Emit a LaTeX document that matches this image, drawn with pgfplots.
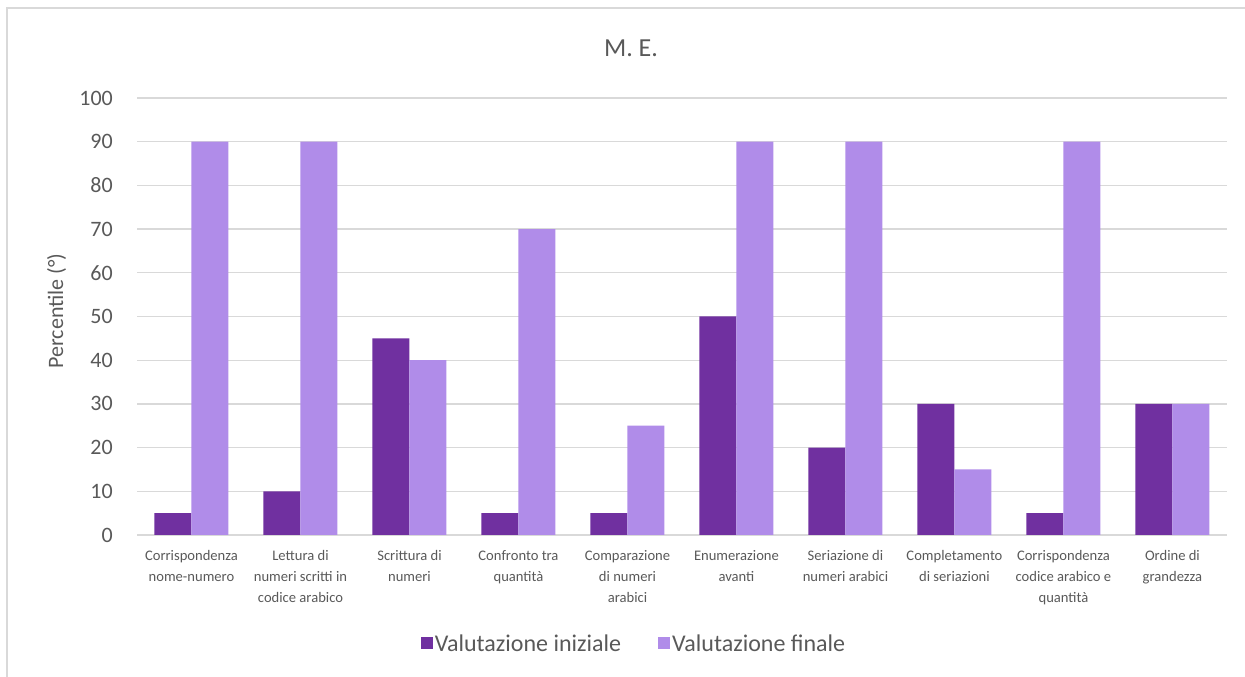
\documentclass[border=0pt]{standalone}
\usepackage{fontspec}
\setmainfont{Carlito}
\usepackage{pgfplots}
\pgfplotsset{compat=1.18}
\definecolor{darkp}{HTML}{7030A0}
\definecolor{lightp}{HTML}{B08CE9}
\definecolor{gridc}{HTML}{D9D9D9}
\definecolor{txt}{HTML}{595959}
\begin{document}
\begin{tikzpicture}
\path[use as bounding box] (0pt,0pt) rectangle (1245pt,677pt);
\draw[gridc, line width=1.2pt] (7pt,0pt) -- (7pt,669pt) -- (1245pt,669pt);
\begin{axis}[
  at={(137pt,142pt)}, anchor=south west,
  scale only axis, width=1090pt, height=437pt,
  ybar=0pt, bar width=37pt,
  xmin=-0.5, xmax=9.5, ymin=0, ymax=100,
  ytick={0,10,...,100},
  xtick={0,...,9},
  xticklabels={{\strut Corrispondenza\\nome-numero},{\strut Lettura di\\numeri scritti in\\codice arabico},{\strut Scrittura di\\numeri},{\strut Confronto tra\\quantità},{\strut Comparazione\\di numeri\\arabici},{\strut Enumerazione\\avanti},{\strut Seriazione di\\numeri arabici},{\strut Completamento\\di seriazioni},{\strut Corrispondenza\\codice arabico e\\quantità},{\strut Ordine di\\grandezza}},
  xticklabel style={align=center, font=\fontsize{14.6}{21}\selectfont, text=txt, inner sep=0pt, anchor=north, yshift=-11pt},
  yticklabel style={font=\fontsize{22}{26}\selectfont, text=txt, inner sep=0pt, anchor=east, xshift=-24pt},
  /pgf/number format/assume math mode=true,
  major tick length=0pt,
  tick style={draw=none},
  axis line style={draw=none},
  ymajorgrids, grid style={gridc, line width=1.3pt},
  legend columns=2,
  legend style={at={(0.456,-0.249)}, anchor=center, draw=none, fill=none,
    font=\fontsize{24}{28}\selectfont, text=txt,
    /tikz/every even column/.append style={column sep=35pt}},
  legend image code/.code={\fill[#1, draw=none] (0pt,-5pt) rectangle (12pt,7pt);},
]
\addplot[fill=darkp, draw=none] coordinates {(0,5) (1,10) (2,45) (3,5) (4,5) (5,50) (6,20) (7,30) (8,5) (9,30)};
\addplot[fill=lightp, draw=none] coordinates {(0,90) (1,90) (2,40) (3,70) (4,25) (5,90) (6,90) (7,15) (8,90) (9,30)};
\legend{Valutazione iniziale, Valutazione finale}
\end{axis}
\node[font=\fontsize{26}{30}\selectfont, text=txt, anchor=base] at (631pt,620pt) {M. E.};
\node[font=\fontsize{22}{26}\selectfont, text=txt, rotate=90, anchor=base] at (63pt,366pt) {Percentile (°)};
\end{tikzpicture}
\end{document}
